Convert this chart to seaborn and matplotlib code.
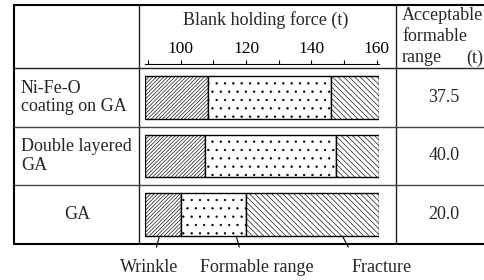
import matplotlib
matplotlib.use("Agg")
import matplotlib.pyplot as plt
import matplotlib.transforms as mtransforms
from matplotlib.lines import Line2D
import seaborn as sns
import numpy as np

# ---------------- data ----------------
categories = ["Ni-Fe-O\ncoating on GA", "Double layered\nGA", "GA"]
range_start = [89.2, 89.2, 89.2]
wrinkle_end = [108.5, 107.5, 100.0]
fracture_start = [146.0, 147.5, 120.0]
range_end = [160.8, 160.8, 160.8]
acceptable = ["37.5", "40.0", "20.0"]
tick_values = [90, 100, 110, 120, 130, 140, 150, 160]
tick_labels = ["", "100", "", "120", "", "140", "", "160"]
legend_labels = ["Wrinkle", "Formable range", "Fracture"]
legend_anchor = [93.5, 117.0, 149.5]

# ---------------- style ----------------
W, H = 485, 280
sns.set_theme(style="white")
plt.rcParams["font.family"] = ["Liberation Serif", "DejaVu Serif"]
plt.rcParams["hatch.linewidth"] = 0.45
FS = 13

fig = plt.figure(figsize=(W / 100, H / 100), dpi=100)
fig.patch.set_facecolor("white")


def fx(px):
    return px / W


def fy(py):
    return 1 - py / H


ax_l, ax_r, ax_t, ax_b = 145.4, 379.3, 68, 244
ax = fig.add_axes([fx(ax_l), fy(ax_b), (ax_r - ax_l) / W, (ax_b - ax_t) / H])
ax.patch.set_visible(False)

segments = [
    (range_start, wrinkle_end, "/" * 9),
    (wrinkle_end, fracture_start, ".."),
    (fracture_start, range_end, "\\" * 6),
]
bar_h = 0.73
for starts, ends, hatch in segments:
    widths = np.array(ends) - np.array(starts)
    sns.barplot(x=widths, y=categories, left=starts, orient="h",
                color="white", saturation=1, edgecolor="black",
                linewidth=1.0, hatch=hatch, width=bar_h, ax=ax)

ax.set_xlim(range_start[0], range_end[0])
ax.set_ylim(len(categories) - 0.5, -0.5)
ax.set_xlabel("")
ax.set_ylabel("")
ax.set_yticks([])
for s in ["left", "right", "bottom"]:
    ax.spines[s].set_visible(False)
ax.spines["top"].set_visible(True)
ax.spines["top"].set_color("black")
ax.spines["top"].set_linewidth(0.8)
ax.spines["top"].set_position(("outward", 3))
ax.xaxis.set_ticks_position("top")
ax.set_xticks(tick_values)
ax.set_xticklabels(tick_labels)
ax.tick_params(axis="x", direction="out", length=3, width=0.8, pad=2,
               labelsize=12.5, top=True, bottom=False,
               labeltop=True, labelbottom=False, colors="black")

# ---------------- table frame ----------------
trans_row = mtransforms.blended_transform_factory(fig.transFigure, ax.transData)


def hline(y_px, lw=1.0, color="#222222", x0=14, x1=485):
    fig.add_artist(Line2D([fx(x0), fx(x1)], [fy(y_px), fy(y_px)],
                          transform=fig.transFigure, lw=lw, color=color))


def vline(x_px, lw=1.0, color="#222222", y0=5, y1=244):
    fig.add_artist(Line2D([fx(x_px), fx(x_px)], [fy(y0), fy(y1)],
                          transform=fig.transFigure, lw=lw, color=color))


hline(5, lw=1.5, color="black")
hline(244, lw=1.5, color="black")
vline(14, lw=1.5, color="black")
vline(139)
vline(396)
hline(68)
for i in range(len(categories) - 1):
    fig.add_artist(Line2D([fx(14), fx(485)], [i + 0.5, i + 0.5],
                          transform=trans_row, lw=1.0, color="#444444"))

# ---------------- header texts ----------------
fig.text(fx(265.5), fy(20.5), "Blank holding force (t)", ha="center",
         va="center", fontsize=FS)
fig.text(fx(402), fy(15), "Acceptable", ha="left", va="center", fontsize=FS)
fig.text(fx(402), fy(36.5), "formable", ha="left", va="center", fontsize=FS)
fig.text(fx(402), fy(58), "range", ha="left", va="center", fontsize=FS)
fig.text(fx(483), fy(58), "(t)", ha="right", va="center", fontsize=FS)

# ---------------- row texts ----------------
label_align = ["left", "left", "center"]
for i, (lab, al) in enumerate(zip(categories, label_align)):
    x = fx(21) if al == "left" else fx(77)
    fig.text(x, i, lab, transform=trans_row, ha=al, va="center",
             fontsize=FS, linespacing=1.1)
    fig.text(fx(444), i, acceptable[i], transform=trans_row, ha="center",
             va="center", fontsize=FS)

# ---------------- legend with leader lines ----------------
leader_dx = [-3, 3, 6]
text_x = [149, 257, 382]
last = len(categories) - 1
for lab, anc, dx, tx in zip(legend_labels, legend_anchor, leader_dx, text_x):
    ax.annotate("", xy=(anc, last + bar_h / 2), xytext=(dx, -11),
                textcoords="offset pixels", annotation_clip=False,
                arrowprops=dict(arrowstyle="-", lw=0.8, color="black",
                                shrinkA=0, shrinkB=0))
    fig.text(fx(tx), fy(267), lab, ha="center", va="center", fontsize=FS)

fig.savefig("out.png", dpi=100)
